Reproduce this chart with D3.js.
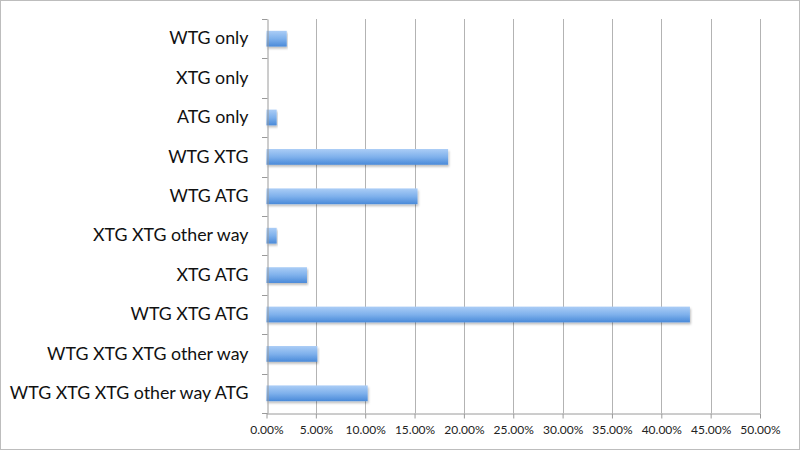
<!DOCTYPE html>
<html><head><meta charset="utf-8">
<script src="https://cdn.jsdelivr.net/npm/d3@7"></script>
<style>html,body{margin:0;padding:0;background:#fff;}svg{display:block;}</style>
</head><body>
<svg id="chart" width="800" height="450"></svg>
<script>
const categories = ["WTG only","XTG only","ATG only","WTG XTG","WTG ATG","XTG XTG other way","XTG ATG","WTG XTG ATG","WTG XTG XTG other way","WTG XTG XTG other way ATG"];
const values = [0.0205, 0.0, 0.0103, 0.184, 0.153, 0.0103, 0.041, 0.429, 0.0515, 0.1025];
const tickValues = [0,0.05,0.10,0.15,0.20,0.25,0.30,0.35,0.40,0.45,0.50];

const svg = d3.select("#chart");
const W = 800, H = 450;
const margin = {left: 266.5, right: 40, top: 19, bottom: 37};

svg.append("rect").attr("x",0.5).attr("y",0.5).attr("width",W-1).attr("height",H-1)
  .attr("fill","#fff").attr("stroke","#bdbdbd");

const defs = svg.append("defs");
const grad = defs.append("linearGradient").attr("id","barGrad").attr("x1",0).attr("y1",0).attr("x2",0).attr("y2",1);
grad.append("stop").attr("offset","0%").attr("stop-color","#abcdf6");
grad.append("stop").attr("offset","50%").attr("stop-color","#7fb1ec");
grad.append("stop").attr("offset","100%").attr("stop-color","#4a8ad9");
const filt = defs.append("filter").attr("id","shadow").attr("x","-5%").attr("y","-30%").attr("width","110%").attr("height","180%");
filt.append("feDropShadow").attr("dx",1).attr("dy",2).attr("stdDeviation",1.2).attr("flood-color","#000").attr("flood-opacity",0.25);

const x = d3.scaleLinear().domain([0,0.5]).range([margin.left, 760]);
const y = d3.scaleBand().domain(categories).range([margin.top, H - margin.bottom]).paddingInner(0.6).paddingOuter(0.3);
const yFull = d3.scaleBand().domain(categories).range([margin.top, H - margin.bottom]);

// gridlines
svg.append("g").selectAll("line").data(tickValues.slice(1)).join("line")
  .attr("x1",d=>Math.round(x(d))+0.5).attr("x2",d=>Math.round(x(d))+0.5)
  .attr("y1",margin.top).attr("y2",H-margin.bottom)
  .attr("stroke","#b3b3b3").attr("stroke-width",1);

// bars
svg.append("g").selectAll("rect").data(categories).join("rect")
  .attr("x",x(0)).attr("y",(d)=>y(d))
  .attr("width",(d,i)=>x(values[i])-x(0))
  .attr("height",y.bandwidth())
  .attr("fill","url(#barGrad)")
  .attr("filter","url(#shadow)");

// x axis
const xAxis = d3.axisBottom(x).tickValues(tickValues).tickSize(5).tickSizeOuter(0)
  .tickFormat(d=>(d*100).toFixed(2)+"%");
const gx = svg.append("g").attr("transform",`translate(0,${Math.round(H-margin.bottom)+0.5})`).call(xAxis);
gx.select(".domain").attr("stroke","#9a9a9a");
gx.selectAll(".tick line").attr("stroke","#9a9a9a");
gx.selectAll(".tick text").attr("font-family","Lato, 'Open Sans', sans-serif").attr("font-size","12px").attr("fill","#222").attr("dy","1.05em");

// y axis
const yAxis = d3.axisLeft(yFull).tickSize(0).tickPadding(19);
const gy = svg.append("g").attr("transform",`translate(${Math.round(margin.left)+0.5},0)`).call(yAxis);
gy.select(".domain").attr("stroke","#9a9a9a");
gy.selectAll(".tick text").attr("font-family","Lato, 'Open Sans', sans-serif").attr("font-size","17.8px").attr("fill","#111");
// category boundary ticks
const bounds = categories.map(c=>yFull(c)).concat([H-margin.bottom]);
svg.append("g").selectAll("line").data(bounds).join("line")
  .attr("x1",Math.round(margin.left)-5).attr("x2",Math.round(margin.left)+0.5)
  .attr("y1",d=>Math.round(d)+0.5).attr("y2",d=>Math.round(d)+0.5)
  .attr("stroke","#9a9a9a");
</script>
</body></html>
